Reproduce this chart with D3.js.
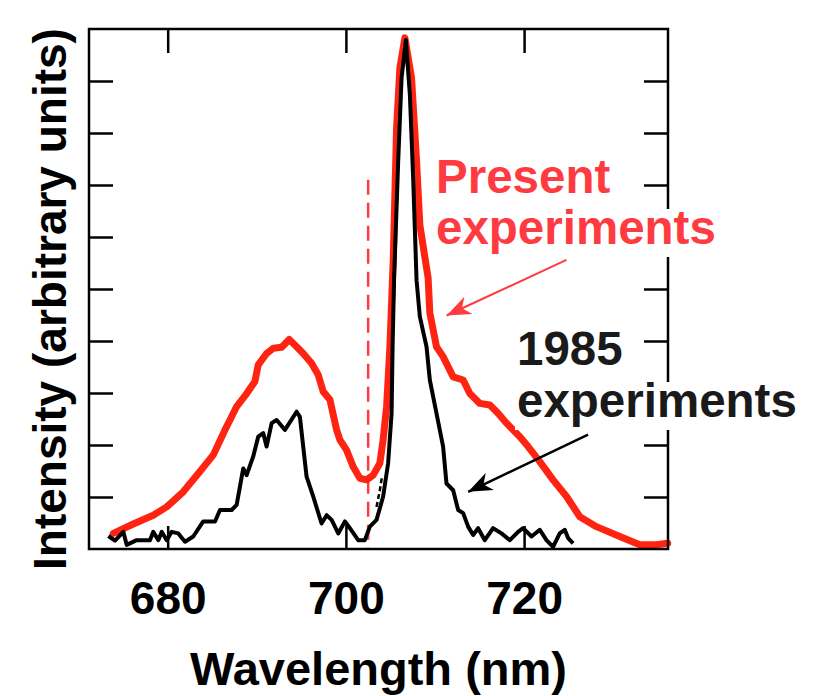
<!DOCTYPE html>
<html>
<head>
<meta charset="utf-8">
<script src="https://cdn.jsdelivr.net/npm/d3@7"></script>
<style>
  body { margin: 0; background: #fff; }
  text { font-family: "Liberation Sans", Arial, Helvetica, sans-serif; font-weight: bold; }
</style>
</head>
<body>
<div id="graph"></div>
<script>
// present experiments (red), wavelength nm / intensity
var presentWl = [673.9, 676.14, 678.38, 679.89, 681.75, 683.62, 685.12, 686.43, 686.99, 687.74, 688.86, 689.79, 690.16, 691.1, 691.85, 692.79, 693.64, 694.47, 695.21, 696.15, 696.89, 697.45, 698.21, 698.96, 699.33, 700.08, 700.82, 701.57, 702.32, 703.06, 703.81, 704.18, 704.57, 704.94, 705.31, 705.69, 706.06, 706.62, 707.37, 707.93, 708.3, 709.23, 709.42, 710.17, 710.91, 712.04, 713.16, 713.91, 715.03, 716.15, 717.08, 718.03, 719.52, 720.45, 721.76, 723.25, 724.76, 726.25, 728.12, 730.74, 732.98, 734.85, 736.12];
var presentI = [0.3, 0.48, 0.65, 0.81, 1.1, 1.49, 1.81, 2.29, 2.48, 2.74, 2.99, 3.22, 3.54, 3.76, 3.86, 3.88, 4.03, 3.89, 3.76, 3.57, 3.35, 3.03, 2.87, 2.29, 2.1, 1.9, 1.58, 1.36, 1.33, 1.42, 1.65, 2.1, 2.74, 3.89, 5.54, 8.1, 9.25, 9.83, 9.06, 7.46, 6.23, 5.21, 4.54, 3.89, 3.7, 3.31, 3.25, 2.99, 2.8, 2.77, 2.61, 2.42, 2.16, 1.97, 1.68, 1.33, 1.01, 0.62, 0.43, 0.24, 0.08, 0.08, 0.11];

// 1985 experiments (black)
var oldWl = [673.34, 674.09, 675.02, 675.4, 676.52, 678.01, 678.38, 678.95, 679.33, 679.89, 680.45, 681.19, 681.94, 682.87, 683.99, 685.31, 685.87, 687.18, 687.74, 688.48, 688.86, 689.6, 690.16, 690.72, 691.1, 691.67, 692.23, 693.16, 694.47, 694.84, 695.59, 696.33, 697.27, 697.84, 698.4, 699.14, 699.89, 700.45, 701.38, 702.13, 702.69, 703.44, 704.18, 704.74, 705.13, 705.24, 705.41, 705.87, 706.25, 706.73, 707.18, 707.55, 707.93, 708.3, 709.05, 709.42, 710.17, 710.91, 711.29, 712.04, 712.6, 713.16, 713.72, 714.28, 714.84, 715.59, 716.52, 717.46, 718.4, 719.33, 719.89, 720.83, 721.76, 722.51, 723.25, 724.0, 724.56, 724.94, 725.5];
var oldI = [0.25, 0.16, 0.33, 0.08, 0.17, 0.17, 0.33, 0.17, 0.33, 0.17, 0.33, 0.3, 0.14, 0.24, 0.53, 0.53, 0.75, 0.75, 0.85, 1.55, 1.42, 1.78, 2.16, 2.23, 1.97, 2.42, 2.48, 2.29, 2.64, 2.54, 1.39, 1.01, 0.49, 0.65, 0.56, 0.3, 0.53, 0.4, 0.17, 0.17, 0.43, 0.56, 1.01, 1.65, 2.61, 3.89, 5.21, 7.46, 9.06, 9.79, 8.74, 7.13, 5.17, 4.47, 3.89, 3.25, 2.61, 1.97, 1.26, 1.13, 0.75, 0.69, 0.43, 0.27, 0.4, 0.17, 0.4, 0.3, 0.17, 0.33, 0.4, 0.24, 0.37, 0.17, 0.04, 0.3, 0.37, 0.21, 0.11];

// short dashed piece next to the 1985 rise
var dashWl = [703.44, 703.81, 704.04];
var dashI = [0.81, 1.13, 1.38];

var cutoffWl = 702.5;   // red dashed marker
var cutoffTop = 7.1;

var xTicks = [680, 700, 720];
var yTicks = [1, 2, 3, 4, 5, 6, 7, 8, 9];

// arrows: [from wl, from I, to wl, to I]
var redArrow = [724.76, 5.56, 711.3, 4.49];
var blackArrow = [727.18, 2.2, 713.72, 1.1];

var width = 816, height = 696;
var x0 = 89, x1 = 668, yTop = 29, yBot = 549;

var svg = d3.select('#graph').append('svg')
  .attr('width', width)
  .attr('height', height);

var x = d3.scaleLinear().domain([671.17, 736.15]).range([x0, x1]);
var y = d3.scaleLinear().domain([0, 10]).range([yBot, yTop]);

var red = '#ff2412', redText = '#ff3b42';

// curves first, frame over them
var line = d3.line().x(d => x(d[0])).y(d => y(d[1]));

svg.append('line')
  .attr('x1', x(cutoffWl)).attr('x2', x(cutoffWl))
  .attr('y1', y(cutoffTop)).attr('y2', y(0))
  .attr('stroke', redText).attr('stroke-width', 2.5)
  .attr('stroke-dasharray', '15,8');

svg.append('path')
  .datum(d3.zip(presentWl, presentI))
  .attr('d', line)
  .attr('fill', 'none')
  .attr('stroke', red)
  .attr('stroke-width', 7)
  .attr('stroke-linejoin', 'round')
  .attr('stroke-linecap', 'round');

svg.append('path')
  .datum(d3.zip(dashWl, dashI))
  .attr('d', line)
  .attr('fill', 'none')
  .attr('stroke', '#000')
  .attr('stroke-width', 2.5)
  .attr('stroke-dasharray', '5,3');

svg.append('path')
  .datum(d3.zip(oldWl, oldI))
  .attr('d', line)
  .attr('fill', 'none')
  .attr('stroke', '#000')
  .attr('stroke-width', 4)
  .attr('stroke-linejoin', 'round');

// frame + inward ticks
svg.append('rect')
  .attr('x', x0).attr('y', yTop)
  .attr('width', x1 - x0).attr('height', yBot - yTop)
  .attr('fill', 'none').attr('stroke', '#000').attr('stroke-width', 2.5);

function tickStyle(g) {
  g.select('.domain').remove();
  g.selectAll('.tick line').attr('stroke', '#000').attr('stroke-width', 2.5);
}

svg.append('g').attr('transform', 'translate(' + x0 + ',0)')
  .call(d3.axisLeft(y).tickValues(yTicks).tickSize(-24).tickFormat(''))
  .call(tickStyle);
svg.append('g').attr('transform', 'translate(' + x1 + ',0)')
  .call(d3.axisRight(y).tickValues(yTicks).tickSize(-24).tickFormat(''))
  .call(tickStyle);
svg.append('g').attr('transform', 'translate(0,' + yTop + ')')
  .call(d3.axisTop(x).tickValues(xTicks).tickSize(-24).tickFormat(''))
  .call(tickStyle);
var xb = svg.append('g').attr('transform', 'translate(0,' + yBot + ')')
  .call(d3.axisBottom(x).tickValues(xTicks).tickSize(-23).tickFormat(d3.format('d')))
  .call(tickStyle);
xb.selectAll('.tick text')
  .attr('y', 65).attr('dy', 0)
  .attr('fill', '#000')
  .style('font-size', '46px')
  .style('font-family', '"Liberation Sans", Arial, sans-serif')
  .style('font-weight', 'bold');

// axis titles
svg.append('text')
  .attr('x', (x0 + x1) / 2).attr('y', 685)
  .attr('text-anchor', 'middle')
  .style('font-size', '47px')
  .text('Wavelength (nm)');

svg.append('text')
  .attr('transform', 'translate(66,299) rotate(-90)')
  .attr('text-anchor', 'middle')
  .style('font-size', '46px')
  .text('Intensity (arbitrary units)');

// annotations with white boxes behind
function label(txt, px, py, col) {
  var g = svg.append('g');
  var r = g.append('rect').attr('fill', '#fff');
  var t = g.append('text').attr('x', px).attr('y', py)
    .attr('fill', col).style('font-size', '47.5px').text(txt);
  var b = t.node().getBBox();
  r.attr('x', b.x - 2).attr('y', py - 35).attr('width', b.width + 4).attr('height', 48);
}
label('Present', 436, 193, redText);
label('experiments', 436, 244, redText);
label('1985', 517, 365, '#1a1a1a');
label('experiments', 517, 417, '#1a1a1a');

// arrows
var defs = svg.append('defs');
function marker(id, col) {
  defs.append('marker')
    .attr('id', id)
    .attr('viewBox', '-24 -10 26 20')
    .attr('refX', 0).attr('refY', 0)
    .attr('markerUnits', 'userSpaceOnUse')
    .attr('markerWidth', 26).attr('markerHeight', 20)
    .attr('orient', 'auto')
    .append('path')
    .attr('d', 'M0,0 L-24,-9.5 L-17,0 L-24,9.5 Z')
    .attr('fill', col);
}
marker('ahRed', redText);
marker('ahBlack', '#000');

svg.append('line')
  .attr('x1', x(redArrow[0])).attr('y1', y(redArrow[1]))
  .attr('x2', x(redArrow[2])).attr('y2', y(redArrow[3]))
  .attr('stroke', redText).attr('stroke-width', 2)
  .attr('marker-end', 'url(#ahRed)');

svg.append('line')
  .attr('x1', x(blackArrow[0])).attr('y1', y(blackArrow[1]))
  .attr('x2', x(blackArrow[2])).attr('y2', y(blackArrow[3]))
  .attr('stroke', '#000').attr('stroke-width', 2.5)
  .attr('marker-end', 'url(#ahBlack)');
</script>
</body>
</html>
